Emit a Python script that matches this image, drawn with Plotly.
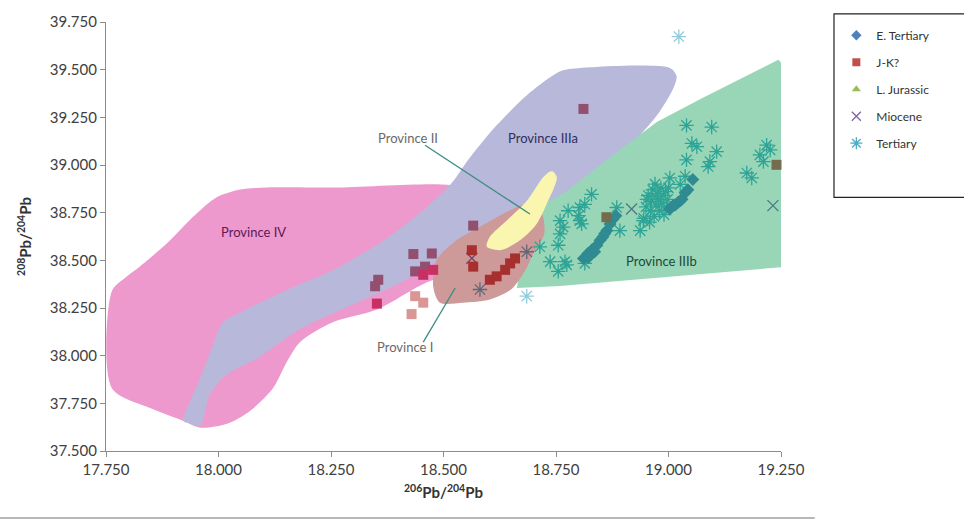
import numpy as np
import plotly.graph_objects as go

# ---------------- sample data (206Pb/204Pb, 208Pb/204Pb) ----------------
e_tertiary_x = [18.811, 18.821, 18.830, 18.841, 18.848, 18.854, 18.863, 18.870, 18.877, 18.883,
                18.822, 18.836, 18.858, 19.003, 19.010, 19.021, 19.030, 19.037, 19.043, 19.054,
                19.015, 19.026]
e_tertiary_y = [38.510, 38.536, 38.556, 38.579, 38.605, 38.622, 38.656, 38.691, 38.717, 38.734,
                38.515, 38.545, 38.640, 38.769, 38.786, 38.803, 38.820, 38.855, 38.870, 38.924,
                38.790, 38.812]

jk_x = [18.566, 18.433, 18.474, 18.437, 18.459, 18.477, 18.455, 18.355, 18.348, 18.352,
        18.437, 18.455, 18.429, 18.563, 18.566, 18.659, 18.648, 18.637, 18.618, 18.603,
        18.811, 18.862, 19.240]
jk_y = [38.682, 38.533, 38.536, 38.442, 38.467, 38.450, 38.424, 38.398, 38.364, 38.273,
        38.312, 38.278, 38.218, 38.553, 38.467, 38.510, 38.484, 38.450, 38.416, 38.398,
        39.294, 38.726, 39.001]

l_jurassic_x = []
l_jurassic_y = []

miocene_x = [18.563, 18.918, 19.232]
miocene_y = [38.511, 38.769, 38.787]

tertiary_x = [19.023, 18.685, 18.581, 18.685, 18.714, 18.737, 18.755, 18.774, 18.755,
              18.759, 18.759, 18.777, 18.800, 18.807, 18.803, 18.814, 18.829, 18.814, 18.803,
              18.766, 18.770,
              18.885, 18.892, 18.937, 18.944,
              18.945, 18.950, 18.955, 18.960, 18.962, 18.965, 18.968, 18.972, 18.975, 18.978,
              18.980, 18.983, 18.985, 18.988, 18.990, 18.993, 18.995, 18.998, 19.000, 18.958,
              18.970, 18.952,
              19.040, 19.096, 19.052, 19.063, 19.107, 19.040, 19.092, 19.088, 19.003, 19.037,
              19.026,
              19.218, 19.203, 19.211, 19.174, 19.185, 19.226]
tertiary_y = [39.673, 38.312, 38.347, 38.545, 38.571, 38.493, 38.442, 38.476, 38.579,
              38.639, 38.708, 38.760, 38.734, 38.691, 38.777, 38.794, 38.846, 38.484, 38.708,
              38.674, 38.493,
              38.777, 38.656, 38.656, 38.708,
              38.720, 38.780, 38.840, 38.760, 38.810, 38.870, 38.730, 38.790, 38.850, 38.820,
              38.760, 38.880, 38.800, 38.840, 38.740, 38.860, 38.780, 38.820, 38.880, 38.700,
              38.900, 38.820,
              39.208, 39.199, 39.113, 39.096, 39.070, 39.027, 39.018, 38.992, 38.932, 38.941,
              38.898,
              39.104, 39.053, 39.018, 38.958, 38.932, 39.079]

# ---------------- province outlines ----------------
prov4_x = [17.763, 17.792, 17.826, 17.885, 17.943, 17.996, 18.048, 18.107, 18.254, 18.499,
           18.559, 18.603, 18.626, 18.559, 18.477, 18.352, 18.254, 18.181, 18.152, 18.121,
           18.070, 18.019, 17.959, 17.921, 17.848, 17.763]
prov4_y = [38.338, 38.407, 38.469, 38.588, 38.727, 38.831, 38.872, 38.882, 38.882, 38.898,
           38.872, 38.639, 38.536, 38.407, 38.397, 38.242, 38.175, 38.071, 37.968, 37.829,
           37.710, 37.643, 37.622, 37.658, 37.725, 37.829]

prov3a_x = [17.921, 17.937, 17.959, 17.986, 18.010, 18.048, 18.152, 18.254, 18.366, 18.463,
            18.521, 18.552, 18.618, 18.692, 18.752, 18.774, 19.003, 19.018, 19.010, 18.974,
            18.937, 18.892, 18.832, 18.759, 18.714, 18.670, 18.581, 18.514, 18.403, 18.292,
            18.181, 18.085, 18.018, 17.981, 17.959, 17.937]
prov3a_y = [37.658, 37.761, 37.880, 38.045, 38.175, 38.226, 38.345, 38.448, 38.603, 38.779,
            38.913, 39.018, 39.208, 39.380, 39.483, 39.501, 39.509, 39.466, 39.399, 39.259,
            39.156, 39.037, 38.898, 38.758, 38.717, 38.691, 38.624, 38.536, 38.381, 38.262,
            38.140, 37.985, 37.901, 37.798, 37.632, 37.643]

prov3b_x = [18.663, 18.685, 18.714, 18.774, 18.877, 18.974, 19.071, 19.244, 19.250, 19.250, 18.759]
prov3b_y = [38.355, 38.656, 38.779, 38.863, 39.053, 39.225, 39.346, 39.552, 39.538, 38.464, 38.366]

prov1_x = [18.685, 18.718, 18.724, 18.702, 18.680, 18.650, 18.603, 18.543, 18.492, 18.477,
           18.485, 18.529, 18.581, 18.632]
prov1_y = [38.794, 38.745, 38.640, 38.545, 38.440, 38.347, 38.295, 38.278, 38.278, 38.366,
           38.502, 38.605, 38.676, 38.743]

prov2_x = [18.743, 18.752, 18.729, 18.707, 18.670, 18.626, 18.596, 18.603, 18.640, 18.685,
           18.721, 18.737]
prov2_y = [38.966, 38.934, 38.794, 38.691, 38.605, 38.553, 38.572, 38.624, 38.708, 38.811,
           38.934, 38.966]

label_text = ["Province IV", "Province IIIa", "Province IIIb", "Province II", "Province I"]
label_x = [18.077, 18.721, 18.985, 18.421, 18.414]
label_y = [38.650, 39.140, 38.495, 39.142, 38.045]

# leader lines for Province II and Province I
leader_x0 = [18.459, 18.455]
leader_y0 = [39.104, 38.071]
leader_x1 = [18.692, 18.526]
leader_y1 = [38.743, 38.355]

x_ticks = [17.75, 18.0, 18.25, 18.5, 18.75, 19.0, 19.25]
y_ticks = [37.5, 37.75, 38.0, 38.25, 38.5, 38.75, 39.0, 39.25, 39.5, 39.75]

# ---------------- styling helpers ----------------
# The province map is a translucent layer laid over the data points.
ALPHA = 0.4
WHITE = (255, 255, 255)
overlay = {
    "IV": (212, 0, 132),
    "IIIa": (78, 78, 162),
    "IIIb": (0, 152, 78),
    "I": (130, 0, 0),
    "II": (242, 232, 55),
}
# draw order, bottom first
regions = [
    ("IV", prov4_x, prov4_y, "spline"),
    ("IIIa", prov3a_x, prov3a_y, "spline"),
    ("IIIb", prov3b_x, prov3b_y, "linear"),
    ("I", prov1_x, prov1_y, "spline"),
    ("II", prov2_x, prov2_y, "spline"),
]


def mix(top, base, a=ALPHA):
    return tuple(int(round(a * t + (1 - a) * b)) for t, b in zip(top, base))


def rgb(c):
    return "rgb(%d,%d,%d)" % c


def inside(px, py, vx, vy):
    n = len(vx)
    c = False
    j = n - 1
    for i in range(n):
        if (vy[i] > py) != (vy[j] > py):
            xc = (vx[j] - vx[i]) * (py - vy[i]) / (vy[j] - vy[i]) + vx[i]
            if px < xc:
                c = not c
        j = i
    return c


def seen_colors(xs, ys, base):
    out = []
    for x, y in zip(xs, ys):
        cover = WHITE
        for name, vx, vy, _ in reversed(regions):
            if inside(x, y, vx, vy):
                cover = overlay[name]
                break
        out.append(rgb(mix(cover, base)))
    return out


series = [
    # name, xs, ys, base colour, symbol, size, open, rank
    ("L. Jurassic", l_jurassic_x, l_jurassic_y, (155, 187, 89), "triangle-up", 10, False, 3),
    ("Tertiary", tertiary_x, tertiary_y, (75, 172, 198), "asterisk-open", 12, True, 5),
    ("Miocene", miocene_x, miocene_y, (128, 100, 162), "x-thin-open", 11, True, 4),
    ("E. Tertiary", e_tertiary_x, e_tertiary_y, (79, 129, 189), "diamond", 10, False, 1),
    ("J-K?", jk_x, jk_y, (192, 80, 77), "square", 10, False, 2),
]

fig = go.Figure()

for name, vx, vy, shape in regions:
    fig.add_trace(go.Scatter(
        x=vx + [vx[0]], y=vy + [vy[0]], mode="lines", fill="toself",
        fillcolor=rgb(mix(overlay[name], WHITE)),
        line=dict(width=0, shape=shape, smoothing=0.8),
        hoverinfo="skip", showlegend=False))

for name, xs, ys, base, sym, size, is_open, rank in series:
    if xs:
        cols = seen_colors(xs, ys, base)
        fig.add_trace(go.Scatter(
            x=xs, y=ys, mode="markers", name=name, showlegend=False,
            cliponaxis=False,
            marker=dict(symbol=sym, size=size, color=cols,
                        line=dict(width=1.3 if is_open else 0, color=cols if is_open else None))))
    # legend entry in the series' own colour
    fig.add_trace(go.Scatter(
        x=[None], y=[None], mode="markers", name=name, legendrank=rank,
        legendgroup=name,
        marker=dict(symbol=sym, size=size - 2, color=rgb(base),
                    line=dict(width=1.3 if is_open else 0, color=rgb(base)))))

for t, x, y in zip(label_text, label_x, label_y):
    col = {"Province IV": "#5e1a52", "Province IIIa": "#2c2f5e",
           "Province IIIb": "#1c4a36"}.get(t, "#6a6a6a")
    fig.add_annotation(x=x, y=y, text=t, showarrow=False,
                       font=dict(family="Lato", size=13, color=col))

for x0, y0, x1, y1 in zip(leader_x0, leader_y0, leader_x1, leader_y1):
    fig.add_shape(type="line", x0=x0, y0=y0, x1=x1, y1=y1, xref="x", yref="y",
                  line=dict(color="#3b8c82", width=1.3))

# legend frame and bottom rule
fig.add_shape(type="rect", xref="paper", yref="paper", x0=1.0785, x1=1.28, y0=0.591, y1=1.019,
              line=dict(color="#222222", width=1.2), fillcolor="rgba(0,0,0,0)")
fig.add_shape(type="line", xref="paper", yref="paper", x0=-0.16, x1=1.05, y0=-0.156, y1=-0.156,
              line=dict(color="#a0a0a0", width=1.5))

axis_common = dict(showline=True, linecolor="#8c8c8c", linewidth=1.2, ticks="outside",
                   ticklen=5, tickcolor="#8c8c8c", showgrid=False, zeroline=False,
                   tickfont=dict(family="Lato", size=15, color="#404040"),
                   tickformat=".3f")

fig.update_layout(
    width=964, height=529,
    margin=dict(l=106, r=183, t=15, b=78),
    plot_bgcolor="white", paper_bgcolor="white",
    font=dict(family="Lato", color="#333333"),
    xaxis=dict(range=[17.75, 19.25], tickvals=x_ticks,
               title=dict(text="<b><sup>206</sup>Pb/<sup>204</sup>Pb</b>", standoff=10,
                          font=dict(family="Lato", size=15, color="#333333")),
               **axis_common),
    yaxis=dict(range=[37.5, 39.75], tickvals=y_ticks,
               title=dict(text="<b><sup>208</sup>Pb/<sup>204</sup>Pb</b>", standoff=14,
                          font=dict(family="Lato", size=15, color="#333333")),
               **axis_common),
    legend=dict(x=1.082, y=1.003, xanchor="left", yanchor="top",
                font=dict(family="Lato", size=12, color="#333333"),
                tracegroupgap=8, bgcolor="rgba(0,0,0,0)", borderwidth=0),
)

fig.write_html("out.html")
